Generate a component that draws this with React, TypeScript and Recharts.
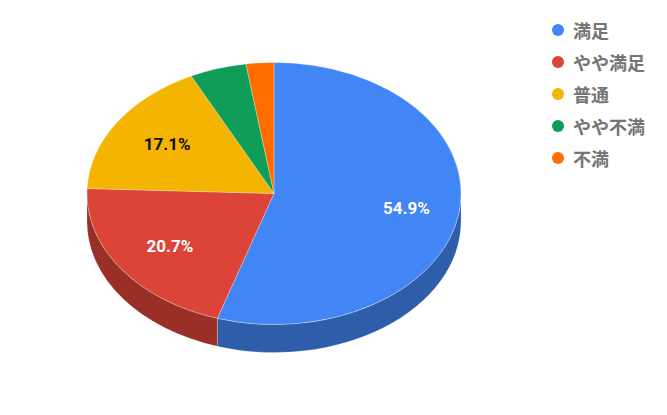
import { Legend, Pie, PieChart } from 'recharts'

const NAMES = ['満足', 'やや満足', '普通', 'やや不満', '不満']
const VALUES = [54.9, 20.7, 17.1, 4.9, 2.4]
const TOP_COLORS = ['#4285f4', '#db4437', '#f4b400', '#0f9d58', '#ff6d01']
const WALL_COLORS = ['#2e5daa', '#992f26', '#aa7d00', '#0a6d3d', '#b24c00']
const LABEL_COLORS = ['#ffffff', '#ffffff', '#0f0f0f', '#ffffff', '#ffffff']

const topData = NAMES.map((name, i) => ({ name, value: VALUES[i], fill: TOP_COLORS[i] }))
const wallData = NAMES.map((name, i) => ({ name, value: VALUES[i], fill: WALL_COLORS[i] }))

const WIDTH = 667
const HEIGHT = 415
const CX = 274
const CY = 193.5
const RX = 187
const RY = 131
const DEPTH = 28
const EDGE = 'rgba(255,255,255,0.35)'
const FONT = 'Roboto, "Noto Sans CJK JP", sans-serif'

const px = (a: number) => CX + RX * Math.cos((a * Math.PI) / 180)
const py = (a: number) => CY - RY * Math.sin((a * Math.PI) / 180)

// recharts only knows circles, so the sector angles get flattened onto an ellipse here
function TopSector({ startAngle, endAngle, fill }: any) {
  const large = Math.abs(startAngle - endAngle) > 180 ? 1 : 0
  const d = `M${CX},${CY}L${px(startAngle)},${py(startAngle)}A${RX},${RY} 0 ${large} 1 ${px(endAngle)},${py(endAngle)}Z`
  return <path d={d} fill={fill} stroke={EDGE} strokeWidth={0.8} />
}

// side wall, only the part of a sector in the lower half of the ellipse shows
function WallSector({ startAngle, endAngle, fill }: any) {
  const from = Math.min(startAngle, 0)
  const to = Math.max(endAngle, -180)
  if (from <= to) return null
  const d =
    `M${px(from)},${py(from)}A${RX},${RY} 0 0 1 ${px(to)},${py(to)}` +
    `L${px(to)},${py(to) + DEPTH}A${RX},${RY} 0 0 0 ${px(from)},${py(from) + DEPTH}Z`
  return <path d={d} fill={fill} stroke={EDGE} strokeWidth={0.6} />
}

function SliceLabel({ midAngle, percent, index }: any) {
  if (percent < 0.05) return null
  const a = (midAngle * Math.PI) / 180
  return (
    <text
      x={CX + 3 + RX * 0.7 * Math.cos(a)}
      y={CY - RY * 0.7 * Math.sin(a)}
      textAnchor="middle"
      dominantBaseline="central"
      fill={LABEL_COLORS[index]}
      fontFamily={FONT}
      fontSize={17}
      fontWeight={700}
    >
      {(percent * 100).toFixed(1)}%
    </text>
  )
}

function LegendRows() {
  return (
    <div style={{ fontFamily: FONT }}>
      {NAMES.map((name, i) => (
        <div key={name} style={{ height: 32, display: 'flex', alignItems: 'center' }}>
          <span style={{ width: 12, height: 12, borderRadius: 6, background: TOP_COLORS[i], marginRight: 9 }} />
          <span style={{ fontSize: 18, fontWeight: 700, color: '#757575', whiteSpace: 'nowrap' }}>{name}</span>
        </div>
      ))}
    </div>
  )
}

export default function App() {
  return (
    <div style={{ position: 'absolute', left: 0, top: 0, width: WIDTH, height: HEIGHT, background: '#fff' }}>
      <PieChart width={WIDTH} height={HEIGHT} margin={{ top: 0, right: 0, bottom: 0, left: 0 }}>
        <Pie
          data={wallData}
          dataKey="value"
          nameKey="name"
          cx={CX}
          cy={CY}
          outerRadius={RX}
          startAngle={90}
          endAngle={-270}
          legendType="none"
          shape={WallSector}
          isAnimationActive={false}
        />
        <Pie
          data={topData}
          dataKey="value"
          nameKey="name"
          cx={CX}
          cy={CY}
          outerRadius={RX}
          startAngle={90}
          endAngle={-270}
          shape={TopSector}
          label={SliceLabel}
          labelLine={false}
          isAnimationActive={false}
        />
        <Legend
          layout="vertical"
          align="right"
          verticalAlign="top"
          content={LegendRows}
          wrapperStyle={{ position: 'absolute', left: 552, top: 14, width: 110 }}
        />
      </PieChart>
    </div>
  )
}
